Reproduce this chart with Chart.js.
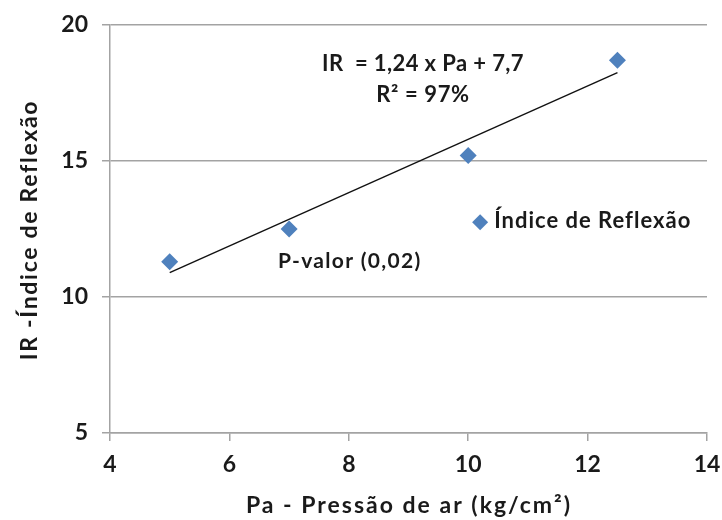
<!DOCTYPE html>
<html>
<head>
<meta charset="utf-8">
<script src="https://cdn.jsdelivr.net/npm/chart.js@4.4.0/dist/chart.umd.min.js"></script>
<style>
  html, body { margin: 0; padding: 0; background: #fff; }
  #wrap { width: 722px; height: 520px; }
</style>
</head>
<body>
<div id="wrap"><canvas id="irChart" width="722" height="520"></canvas></div>
<script>
// Pressão de ar (kg/cm²) vs Índice de Reflexão
const pressao = [5, 7, 10, 12.5]
const reflexao = [11.3, 12.5, 15.2, 18.7]

// linha de tendência (extremos)
const trendX = [5, 12.5]
const trendY = [10.9, 18.25]

const xTicks = [4, 6, 8, 10, 12, 14]
const yTicks = [5, 10, 15, 20]

const seriesName = "Índice de Reflexão"
const equation = "IR  = 1,24 x Pa + 7,7"
const rSquared = "R² = 97%"
const pValue = "P-valor (0,02)"
const xTitle = "Pa - Pressão de ar (kg/cm²)"
const yTitle = "IR -Índice de Reflexão"

const FONT = "Lato, 'Open Sans', sans-serif"
const BLUE = "#4f81bd"
const GRID = "#a3a3a3"
const INK = "#1a1a1a"

function text(ctx, str, x, y, size, spacing, align) {
  ctx.font = "bold " + size + "px " + FONT
  ctx.letterSpacing = spacing + "px"
  ctx.textAlign = align || "left"
  ctx.fillText(str, x, y)
}

// textos, títulos e legenda desenhados à mão
const notes = {
  id: "notes",
  afterDraw(chart) {
    const { ctx, scales: { x, y } } = chart
    ctx.save()
    ctx.fillStyle = INK
    ctx.textBaseline = "alphabetic"
    text(ctx, equation, 423, 71, 22, 0.4, "center")
    text(ctx, rSquared, 423, 102, 22, 0.6, "center")
    text(ctx, pValue, 278, 268, 21, 1.3)

    // legenda
    const lx = x.getPixelForValue(10.2)
    const ly = y.getPixelForValue(12.75)
    ctx.fillStyle = BLUE
    ctx.beginPath()
    ctx.moveTo(lx, ly - 8)
    ctx.lineTo(lx + 8, ly)
    ctx.lineTo(lx, ly + 8)
    ctx.lineTo(lx - 8, ly)
    ctx.closePath()
    ctx.fill()
    ctx.fillStyle = INK
    text(ctx, seriesName, lx + 14, 228, 22, 1)

    // títulos dos eixos
    text(ctx, xTitle, 409, 513, 23, 2, "center")
    ctx.translate(37, 230)
    ctx.rotate(-Math.PI / 2)
    text(ctx, yTitle, 0, 0, 23, 1.7, "center")
    ctx.restore()
  }
}

new Chart(document.getElementById("irChart"), {
  type: "scatter",
  data: {
    datasets: [
      {
        label: seriesName,
        data: pressao.map((v, i) => ({ x: v, y: reflexao[i] })),
        pointStyle: "rectRot",
        pointRadius: 8.5,
        pointHoverRadius: 8.5,
        backgroundColor: BLUE,
        borderColor: BLUE,
        borderWidth: 0,
        order: 1
      },
      {
        label: "Tendência",
        type: "line",
        data: trendX.map((v, i) => ({ x: v, y: trendY[i] })),
        borderColor: "#111",
        borderWidth: 1.4,
        pointRadius: 0,
        fill: false,
        order: 2
      }
    ]
  },
  options: {
    responsive: false,
    animation: false,
    layout: { padding: { left: 0, right: 15, top: 25, bottom: 0 } },
    plugins: {
      legend: { display: false },
      tooltip: { enabled: false }
    },
    scales: {
      x: {
        type: "linear",
        min: 4,
        max: 14,
        afterBuildTicks: s => { s.ticks = xTicks.map(v => ({ value: v })) },
        afterFit: s => { s.height = 87; s.paddingLeft = 0; s.paddingRight = 0 },
        grid: { drawOnChartArea: false, drawTicks: true, tickLength: 8, color: GRID, lineWidth: 1.5 },
        border: { display: true, color: GRID, width: 1.5 },
        ticks: { color: INK, padding: 10, font: { family: FONT, size: 23, weight: "bold" } }
      },
      y: {
        type: "linear",
        min: 5,
        max: 20,
        afterBuildTicks: s => { s.ticks = yTicks.map(v => ({ value: v })) },
        afterFit: s => { s.width = 110; s.paddingTop = 0; s.paddingBottom = 0 },
        grid: { drawOnChartArea: true, drawTicks: true, tickLength: 8, color: GRID, lineWidth: 1.5 },
        border: { display: true, color: GRID, width: 1.5 },
        ticks: { color: INK, padding: 14, font: { family: FONT, size: 23, weight: "bold" } }
      }
    }
  },
  plugins: [notes]
})
</script>
</body>
</html>
